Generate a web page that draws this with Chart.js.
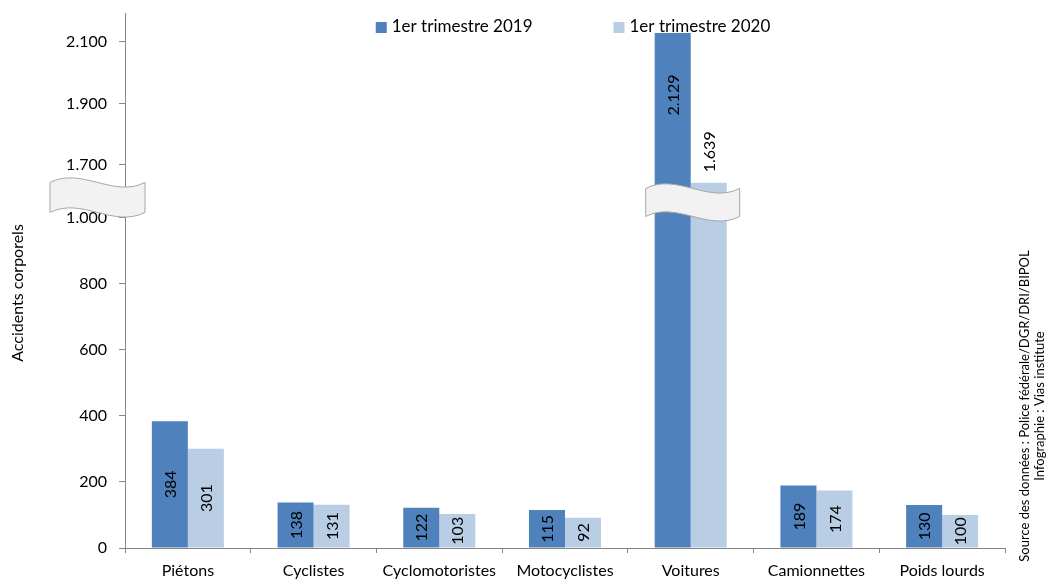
<!DOCTYPE html>
<html>
<head>
<meta charset="utf-8">
<script src="https://cdn.jsdelivr.net/npm/chart.js@4"></script>
<style>
  html, body { margin: 0; padding: 0; background: #fff; }
  #wrap { width: 1047px; height: 580px; }
</style>
</head>
<body>
<div id="wrap"><canvas id="myChart"></canvas></div>
<script>
var categories = ["Piétons", "Cyclistes", "Cyclomotoristes", "Motocyclistes", "Voitures", "Camionnettes", "Poids lourds"];
var values2019 = [384, 138, 122, 115, 2129, 189, 130];
var values2020 = [301, 131, 103, 92, 1639, 174, 100];
var seriesNames = ["1er trimestre 2019", "1er trimestre 2020"];
var barColors = ["#4F81BD", "#B9CDE5"];
var tickValues = [0, 200, 400, 600, 800, 1000, 1700, 1900, 2100];
var breakLow = 1000, breakHigh = 1700;

// broken axis: values above the break are squeezed into "virtual" units
var gapUnits = 160.6, upperRatio = 0.932, virtualMax = 1621;
function toVirtual(v) {
  if (v <= breakLow) return v;
  if (v >= breakHigh) return breakLow + gapUnits + (v - breakHigh) * upperRatio;
  var t = (v - breakLow) / (breakHigh - breakLow);
  return breakLow + gapUnits * Math.pow(t, 4.5);
}
function fmt(v) {
  if (v < 1000) return String(v);
  return Math.floor(v / 1000) + "." + String(v % 1000).padStart(3, "0");
}

class BrokenScale extends Chart.LinearScale {
  static id = "broken";
  buildTicks() { return tickValues.map(function (v) { return { value: v }; }); }
  getPixelForValue(v) {
    return v === null ? NaN : super.getPixelForValue(toVirtual(v));
  }
}
Chart.register(BrokenScale);

var FONT = "Lato";

function drawBreak(ctx, x0, yc, w, h) {
  var top = yc - h / 2, d = 16;
  ctx.beginPath();
  ctx.moveTo(x0, top);
  ctx.bezierCurveTo(x0 + w / 3, top - d, x0 + 2 * w / 3, top + d, x0 + w, top);
  ctx.lineTo(x0 + w, top + h);
  ctx.bezierCurveTo(x0 + 2 * w / 3, top + h + d, x0 + w / 3, top + h - d, x0, top + h);
  ctx.closePath();
  ctx.fillStyle = "#F2F2F2";
  ctx.fill();
  ctx.strokeStyle = "#A6A6A6";
  ctx.lineWidth = 1;
  ctx.stroke();
}

var extras = {
  id: "extras",
  afterDatasetsDraw: function (chart) {
    var ctx = chart.ctx;
    ctx.save();
    ctx.font = "16px " + FONT;
    ctx.fillStyle = "#000";
    ctx.textAlign = "center";
    ctx.textBaseline = "middle";
    chart.data.datasets.forEach(function (ds, i) {
      chart.getDatasetMeta(i).data.forEach(function (bar, j) {
        var v = ds.data[j], y;
        if (v >= breakHigh) y = bar.y + 62;
        else if (v > breakLow) y = bar.y - 31;
        else y = (bar.y + bar.base) / 2;
        ctx.save();
        ctx.translate(bar.x, y);
        ctx.rotate(-Math.PI / 2);
        ctx.fillText(fmt(v), 0, 1);
        ctx.restore();
      });
    });
    ctx.restore();
  },
  afterDraw: function (chart) {
    var ctx = chart.ctx, area = chart.chartArea, ys = chart.scales.y, xs = chart.scales.x;
    ctx.save();
    var mid = (ys.getPixelForValue(breakLow) + ys.getPixelForValue(breakHigh)) / 2;
    drawBreak(ctx, area.left - 75, mid + 6, 95, 30);
    var vx = xs.getPixelForValue(categories.indexOf("Voitures"));
    drawBreak(ctx, vx - 45, mid + 11, 94, 28);

    // legend
    ctx.font = "17px " + FONT;
    ctx.textBaseline = "middle";
    ctx.textAlign = "left";
    var box = 11, gap = 5, spacing = 81;
    var widths = seriesNames.map(function (s) { return ctx.measureText(s).width; });
    var total = box * 2 + gap * 2 + widths[0] + widths[1] + spacing;
    var x = (area.left + area.right) / 2 + 8 - total / 2, ly = 27;
    seriesNames.forEach(function (s, i) {
      ctx.fillStyle = barColors[i];
      ctx.fillRect(x, ly - 5, box, box);
      ctx.fillStyle = "#000";
      ctx.fillText(s, x + box + gap, ly);
      x += box + gap + widths[i] + spacing;
    });

    // axis title
    ctx.textAlign = "center";
    ctx.font = "16px " + FONT;
    ctx.save();
    ctx.translate(18, 293);
    ctx.rotate(-Math.PI / 2);
    ctx.fillText("Accidents corporels", 0, 0);
    ctx.restore();

    // source
    ctx.font = "13px " + FONT;
    ctx.save();
    ctx.translate(1025, 406);
    ctx.rotate(-Math.PI / 2);
    ctx.fillText("Source des données : Police fédérale/DGR/DRI/BIPOL", 0, 0);
    ctx.fillText("Infographie : Vias institute", 0, 15);
    ctx.restore();
    ctx.restore();
  }
};

new Chart("myChart", {
  type: "bar",
  data: {
    labels: categories,
    datasets: [
      { label: seriesNames[0], data: values2019, backgroundColor: barColors[0] },
      { label: seriesNames[1], data: values2020, backgroundColor: barColors[1] }
    ]
  },
  options: {
    responsive: true,
    maintainAspectRatio: false,
    animation: false,
    categoryPercentage: 0.573,
    barPercentage: 1,
    layout: { padding: { top: 13, right: 42, left: 0, bottom: 0 } },
    plugins: { legend: { display: false }, tooltip: { enabled: false } },
    scales: {
      x: {
        grid: { drawOnChartArea: false, offset: true, tickLength: 5, color: "#868686" },
        border: { color: "#868686" },
        ticks: { color: "#000", font: { family: FONT, size: 16 }, padding: 8, maxRotation: 0, autoSkip: false },
        afterFit: function (s) { s.height = 32; s.paddingLeft = 0; s.paddingRight = 0; }
      },
      y: {
        type: "broken",
        min: 0,
        max: virtualMax,
        grid: { drawOnChartArea: false, tickLength: 6, color: "#868686" },
        border: { color: "#868686" },
        ticks: { color: "#000", font: { family: FONT, size: 16 }, padding: 12, autoSkip: false, callback: function (v) { return fmt(v); } },
        afterFit: function (s) { s.width = 125; s.paddingTop = 0; s.paddingBottom = 0; }
      }
    }
  },
  plugins: [extras]
});
</script>
</body>
</html>
